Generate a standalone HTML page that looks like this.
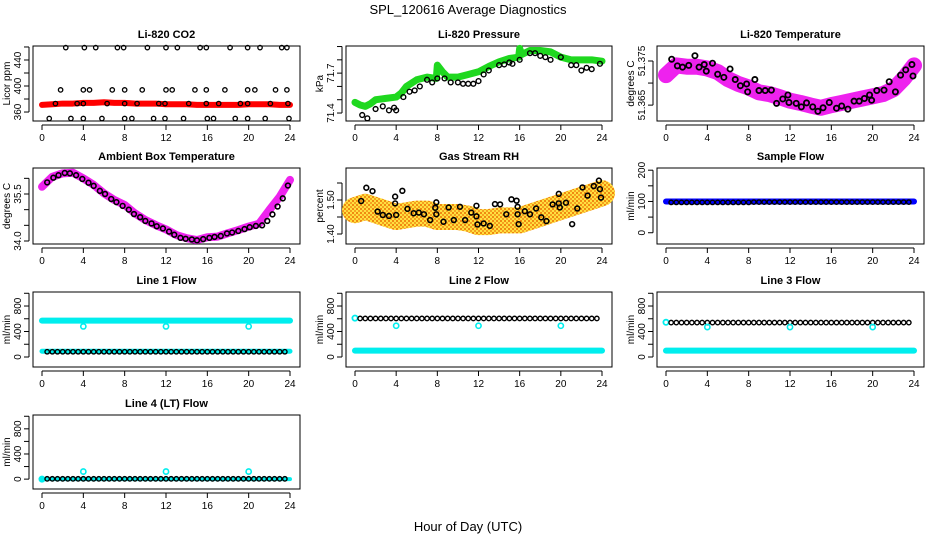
<!DOCTYPE html>
<html><head><meta charset="utf-8"><style>
html,body{margin:0;padding:0;background:#fff;}
svg{display:block;font-family:"Liberation Sans",sans-serif;}
</style></head><body>
<svg id="c" width="936" height="540" viewBox="0 0 936 540" xmlns="http://www.w3.org/2000/svg">
<defs>
<pattern id="rhpat" width="4" height="4" patternUnits="userSpaceOnUse">
<rect width="4" height="4" fill="#ffe040"/><rect width="2" height="2" fill="#f08a10"/><rect x="2" y="2" width="2" height="2" fill="#f5a020"/>
</pattern>
</defs>
<text x="468" y="14" text-anchor="middle" font-size="13">SPL_120616  Average Diagnostics</text>
<text x="468" y="531" text-anchor="middle" font-size="13">Hour of Day (UTC)</text>
</svg>
<script>
// ---------- data ----------
const xTicks = [0,4,8,12,16,20,24];
const fineHours = [0.5,1,1.5,2,2.5,3,3.5,4,4.5,5,5.5,6,6.5,7,7.5,8,8.5,9,9.5,10,10.5,11,11.5,12,12.5,13,13.5,14,14.5,15,15.5,16,16.5,17,17.5,18,18.5,19,19.5,20,20.5,21,21.5,22,22.5,23,23.5];
const hourly = [0,1,2,3,4,5,6,7,8,9,10,11,12,13,14,15,16,17,18,19,20,21,22,23,24];

const co2BandV = [371,372,373,373,374,374,375,374,374,373,373,373,372,372,372,371,371,371,371,371,372,372,372,371,371];
const co2Hours = [2.3,4.1,5.2,7.3,7.9,10.2,12.0,13.1,15.3,15.9,18.2,19.9,21.1,23.2,23.7,
 1.8,4.0,4.6,6.8,8.0,9.7,12.0,12.6,14.8,15.9,17.7,19.9,20.6,22.6,23.7,
 1.3,3.4,4.0,6.3,8.0,9.2,11.3,11.9,14.2,15.9,17.1,19.2,19.9,22.1,23.8,
 0.7,2.8,4.0,5.8,8.0,8.7,10.8,11.9,13.7,16.0,16.6,18.7,19.9,21.6,23.9];
const co2Vals = [459,459,459,459,459,459,459,459,459,459,459,459,459,459,459,
 394,394,394,394,394,394,394,394,394,394,394,394,394,394,394,
 373,373,373,373,373,373,373,373,373,373,373,373,373,373,373,
 350,350,350,350,350,350,350,350,350,350,350,350,350,350,350];

const presBandH = [0,0.5,1,1.5,2,3,4,4.5,5,6,7,7.9,8,8.5,9,10,11,12,13,14,15,15.9,16,16.2,17,18,19,20,21,22,23,24];
const presBandV = [71.48,71.46,71.45,71.47,71.50,71.51,71.52,71.55,71.60,71.65,71.67,71.66,71.76,71.71,71.67,71.67,71.69,71.71,71.75,71.785,71.81,71.82,71.886,71.84,71.87,71.87,71.86,71.82,71.80,71.80,71.80,71.79];
const presHours = [0.7,1.2,2,2.7,3.3,3.8,4,4.7,5.3,5.8,6.3,7,7.5,8,8.7,9.3,10,10.5,11,11.5,12,12.5,13,14,14.5,15,15.3,16,17,17.5,18,18.5,19,20,21,21.5,22,22.5,23,23.8];
const presVals = [71.385,71.36,71.43,71.45,71.42,71.44,71.42,71.52,71.56,71.57,71.60,71.65,71.63,71.66,71.66,71.63,71.63,71.62,71.62,71.62,71.64,71.69,71.72,71.76,71.765,71.78,71.77,71.80,71.85,71.85,71.83,71.82,71.80,71.82,71.76,71.76,71.72,71.74,71.73,71.77];

const tempBandV = [51.3718,51.3740,51.3737,51.3737,51.3733,51.3725,51.3709,51.3698,51.3690,51.3679,51.3675,51.3668,51.3660,51.3655,51.3649,51.3644,51.3650,51.3655,51.3660,51.3665,51.3670,51.3675,51.3686,51.3710,51.3740];
const tempHours = [0.55,1.1,1.6,2.2,2.8,3.2,3.7,3.9,4.5,5.0,5.6,6.2,6.7,7.2,7.8,7.9,8.6,9.0,9.6,10.2,10.7,11.3,11.8,11.9,12.6,13.1,13.6,14.2,14.7,15.2,15.8,16.5,17.0,17.6,18.2,18.7,19.2,19.7,19.9,20.4,21.1,21.6,22.2,22.7,23.2,23.8,23.9];
const tempVals = [51.3754,51.3739,51.3736,51.3740,51.3762,51.3736,51.3742,51.3727,51.3745,51.3720,51.3713,51.3732,51.3708,51.3694,51.3698,51.3680,51.3708,51.3683,51.3683,51.3684,51.3654,51.3664,51.3673,51.3656,51.3654,51.3646,51.3655,51.3646,51.3636,51.3644,51.3656,51.3643,51.3648,51.3641,51.3659,51.3659,51.3665,51.3673,51.3661,51.3683,51.3684,51.3703,51.3680,51.3718,51.3730,51.3742,51.3716];

const ambBandV = [35.73,36.05,36.16,36.18,36.00,35.79,35.52,35.31,35.15,34.88,34.67,34.51,34.37,34.19,34.09,34.03,34.12,34.14,34.25,34.35,34.46,34.55,34.99,35.41,35.95];
const ambHours = [0.5,1.1,1.6,2.2,2.7,3.3,3.9,4.5,5.0,5.6,6.1,6.7,7.2,7.8,8.4,8.9,9.5,10.0,10.6,11.1,11.7,12.3,12.8,13.4,13.9,14.5,15.0,15.6,16.2,16.7,17.3,17.9,18.4,19.0,19.6,20.1,20.7,21.3,21.8,22.3,22.8,23.3,23.8];
const ambVals = [35.87,36.02,36.10,36.17,36.16,36.10,35.98,35.86,35.76,35.60,35.50,35.34,35.24,35.12,35.00,34.86,34.76,34.64,34.56,34.47,34.40,34.30,34.20,34.10,34.07,34.05,34.02,34.06,34.10,34.13,34.16,34.24,34.27,34.32,34.38,34.44,34.48,34.50,34.64,34.85,35.10,35.36,35.77];

const rhBandV = [1.47,1.48,1.47,1.46,1.45,1.455,1.46,1.46,1.45,1.45,1.45,1.445,1.435,1.435,1.44,1.44,1.44,1.45,1.46,1.47,1.48,1.49,1.50,1.51,1.52];
const rhHours = [0.6,1.1,1.7,2.2,2.7,3.3,3.9,3.9,4.0,4.6,5.1,5.7,6.2,6.7,7.3,7.8,7.9,7.9,8.6,9.1,9.6,10.2,10.7,11.3,11.8,11.8,11.9,12.5,13.1,13.6,14.1,14.7,15.2,15.7,15.8,15.8,15.9,16.5,17.0,17.6,18.1,18.6,19.2,19.8,19.8,19.9,20.5,21.1,21.6,22.1,22.6,23.2,23.7,23.8,23.9];
const rhVals = [1.497,1.536,1.526,1.466,1.456,1.453,1.510,1.490,1.456,1.527,1.474,1.461,1.463,1.458,1.441,1.477,1.458,1.493,1.436,1.478,1.441,1.480,1.441,1.463,1.483,1.452,1.428,1.431,1.424,1.488,1.487,1.458,1.502,1.498,1.480,1.458,1.429,1.467,1.458,1.475,1.449,1.438,1.487,1.518,1.490,1.478,1.492,1.429,1.475,1.537,1.513,1.541,1.557,1.532,1.507];

const sampleBandH = [0,24];
const sampleBandV = [100,100];
const sampleBlack = [97,97,97,97,97,97,97,97,97,97,97,97,97,97,97,97,98,98,98,98,98,98,98,98,98,98,98,98,98,98,98,98,98,98,98,98,98,98,98,98,98,98,98,98,98,98,98];

const outlierHours = [4,12,20];
const line1High = [570,570];
const line1Low = [90,90];
const line1Black = [82,82,82,82,82,82,82,82,82,82,82,82,82,82,82,82,82,82,82,82,82,82,82,82,82,82,82,82,82,82,82,82,82,82,82,82,82,82,82,82,82,82,82,82,82,82,82];
const line1Out = [480,480,480];
const line2Start = [610];
const line2Low = [100,100];
const line2Black = [605,605,605,605,605,605,605,605,605,605,605,605,605,605,605,605,605,605,605,605,605,605,605,605,605,605,605,605,605,605,605,605,605,605,605,605,605,605,605,605,605,605,605,605,605,605,605];
const line2Out = [490,490,490];
const line3Start = [545];
const line3Low = [100,100];
const line3Black = [540,540,540,540,540,540,540,540,540,540,540,540,540,540,540,540,540,540,540,540,540,540,540,540,540,540,540,540,540,540,540,540,540,540,540,540,540,540,540,540,540,540,540,540,540,540,540];
const line3Out = [470,470,470];
const line4Start = [0];
const line4Low = [0,0];
const line4Black = [5,5,5,5,5,5,5,5,5,5,5,5,5,5,5,5,5,5,5,5,5,5,5,5,5,5,5,5,5,5,5,5,5,5,5,5,5,5,5,5,5,5,5,5,5,5,5];
const line4Out = [120,120,120];

// ---------- drawing ----------
const svg = document.getElementById('c');
const NS = 'http://www.w3.org/2000/svg';
function el(tag, attrs, parent){
  const e = document.createElementNS(NS, tag);
  for (const k in attrs) e.setAttribute(k, attrs[k]);
  (parent||svg).appendChild(e);
  return e;
}
const cols = [[33,300],[346,612],[657,924]];
const rows = [[46,121],[168,244],[292,367],[415,489]];

function panel(name, title, ylab, c, r, ymin, ymax, yTicks, yLabels){
  const g = el('g', {});
  
  
  const L = cols[c][0], R = cols[c][1], T = rows[r][0], B = rows[r][1];
  const x0 = L + 9, x1 = R - 10;
  const sx = h => x0 + (h/24)*(x1-x0);
  const sy = v => B - (v-ymin)/(ymax-ymin)*(B-T);
  const box = el('rect', {x:L, y:T, width:R-L, height:B-T, fill:'none', stroke:'#000', 'stroke-width':1}, g);
  
  
  const t = el('text', {x:(L+R)/2, y:T-8, 'text-anchor':'middle', 'font-size':11, 'font-weight':'bold'}, g);
  
  
  t.textContent = title;
  const xa = el('g', {}, g);
  
  
  el('line', {x1:sx(0), x2:sx(24), y1:B+4, y2:B+4, stroke:'#000'}, xa);
  xTicks.forEach(v => {
    el('line', {x1:sx(v), x2:sx(v), y1:B+4, y2:B+9, stroke:'#000'}, xa);
    const tl = el('text', {x:sx(v), y:B+20, 'text-anchor':'middle', 'font-size':10}, xa);
    
    
    tl.textContent = v;
  });
  const ya = el('g', {}, g);
  
  
  el('line', {x1:L-4, x2:L-4, y1:sy(yTicks[0]), y2:sy(yTicks[yTicks.length-1]), stroke:'#000'}, ya);
  yTicks.forEach(v => {
    el('line', {x1:L-9, x2:L-4, y1:sy(v), y2:sy(v), stroke:'#000'}, ya);
  });
  yLabels.forEach(v => {
    const tl = el('text', {x:0, y:0, 'text-anchor':'middle', 'font-size':10, transform:`translate(${L-12},${sy(parseFloat(v))}) rotate(-90)`}, ya);
    
    
    tl.textContent = v;
  });
  const yt = el('text', {x:0, y:0, 'text-anchor':'middle', 'font-size':10, transform:`translate(${L-23},${(T+B)/2}) rotate(-90)`}, ya);
  
  
  yt.textContent = ylab;
  const clip = el('g', {}, g);
  return {g:clip, sx, sy};
}
function band(p, name, hs, vs, color, w){
  const pts = hs.map((h,i) => p.sx(h)+','+p.sy(vs[i])).join(' ');
  const e = el('polyline', {points:pts, fill:'none', stroke:color, 'stroke-width':w, 'stroke-linejoin':'round', 'stroke-linecap':'round'}, p.g);
  
  
}
function pts(p, name, hs, vs, color, r, sw){
  const gg = el('g', {}, p.g);
  
  
  hs.forEach((h,i) => {
    el('circle', {cx:p.sx(h), cy:p.sy(vs[i]), r:r||2.4, fill:'none', stroke:color, 'stroke-width':sw||1.4}, gg);
  });
}

let p = panel('co2-panel','Li-820 CO2','Licor ppm',0,0,346.2,461.5,[360,380,400,420,440,460],['360','400','440']);
band(p,'co2-band',hourly,co2BandV,'#ff0000',6);
pts(p,'co2-points',co2Hours,co2Vals,'#000',2.2,1.3);
p = panel('pressure-panel','Li-820 Pressure','kPa',1,0,71.34,71.904,[71.4,71.5,71.6,71.7,71.8,71.9],['71.4','71.7']);
band(p,'pressure-band',presBandH,presBandV,'#1fd81f',7);
pts(p,'pressure-points',presHours,presVals,'#000',2.4,1.4);
p = panel('temperature-panel','Li-820 Temperature','degrees C',2,0,51.3614,51.3784,[51.365,51.370,51.375],['51.365','51.375']);
band(p,'temperature-band',hourly,tempBandV,'#ee22ee',16);
pts(p,'temperature-points',tempHours,tempVals,'#000',2.6,1.8);
p = panel('ambient-panel','Ambient Box Temperature','degrees C',0,1,33.904,36.33,[34.0,34.5,35.0,35.5,36.0],['34.0','35.5']);
band(p,'ambient-band',hourly,ambBandV,'#ee22ee',8);
pts(p,'ambient-points',ambHours,ambVals,'#000',2.4,1.6);
p = panel('rh-panel','Gas Stream RH','percent',1,1,1.3706,1.5941,[1.40,1.45,1.50,1.55],['1.40','1.50']);
band(p,'rh-band',hourly,rhBandV,'url(#rhpat)',26);
pts(p,'rh-points',rhHours,rhVals,'#000',2.4,1.6);
p = panel('sample-flow-panel','Sample Flow','ml/min',2,1,-36,207,[0,50,100,150,200],['0','100','200']);
band(p,'sample-band',sampleBandH,sampleBandV,'#0000ff',6);
pts(p,'sample-points',fineHours,sampleBlack,'#000',2.2,1.4);
const fT = [0,200,400,600,800,1000], fL = ['0','400','800'];
p = panel('line1-panel','Line 1 Flow','ml/min',0,2,-157,1020,fT,fL);
band(p,'line1-high-band',sampleBandH,line1High,'#00eeee',6);
band(p,'line1-low-band',sampleBandH,line1Low,'#00eeee',5);
pts(p,'line1-points',fineHours,line1Black,'#000',2.2,1.4);
pts(p,'line1-outliers',outlierHours,line1Out,'#00eeee',2.6,1.6);
p = panel('line2-panel','Line 2 Flow','ml/min',1,2,-157,1020,fT,fL);
band(p,'line2-low-band',sampleBandH,line2Low,'#00eeee',6);
pts(p,'line2-start',[0],line2Start,'#00eeee',2.6,1.8);
pts(p,'line2-points',fineHours,line2Black,'#000',2.2,1.4);
pts(p,'line2-outliers',outlierHours,line2Out,'#00eeee',2.6,1.6);
p = panel('line3-panel','Line 3 Flow','ml/min',2,2,-157,1020,fT,fL);
band(p,'line3-low-band',sampleBandH,line3Low,'#00eeee',6);
pts(p,'line3-start',[0],line3Start,'#00eeee',2.6,1.8);
pts(p,'line3-points',fineHours,line3Black,'#000',2.2,1.4);
pts(p,'line3-outliers',outlierHours,line3Out,'#00eeee',2.6,1.6);
p = panel('line4-panel','Line 4 (LT) Flow','ml/min',0,3,-157,1020,fT,fL);
band(p,'line4-low-band',sampleBandH,line4Low,'#00eeee',4);
pts(p,'line4-start',[0],line4Start,'#00eeee',2.6,1.8);
pts(p,'line4-points',fineHours,line4Black,'#000',2.2,1.4);
pts(p,'line4-outliers',outlierHours,line4Out,'#00eeee',2.6,1.6);
</script>
</body></html>
